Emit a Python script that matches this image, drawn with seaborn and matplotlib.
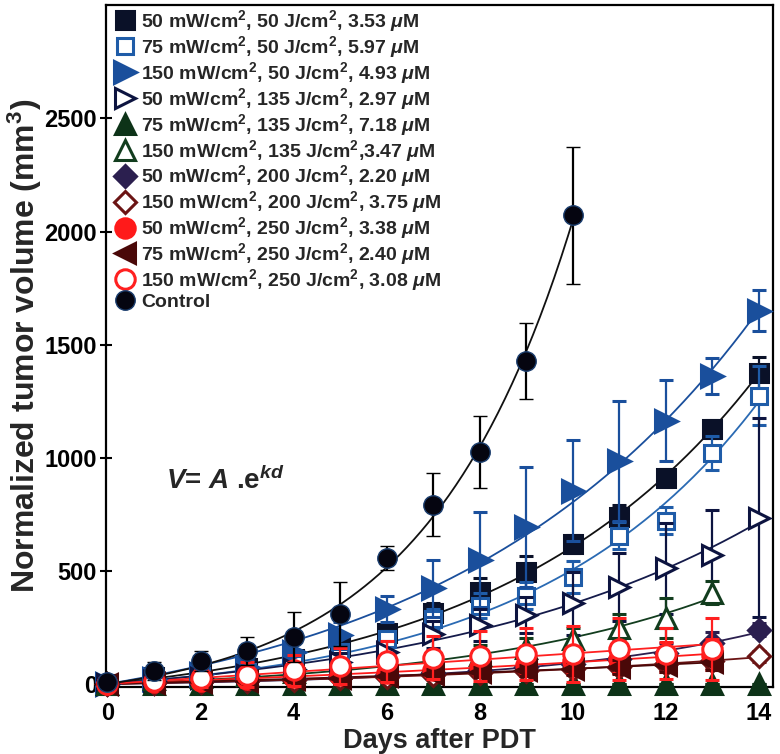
import numpy as np
import pandas as pd
import matplotlib
matplotlib.use("Agg")
import matplotlib.pyplot as plt
from matplotlib.lines import Line2D
import seaborn as sns

# days after PDT
days = list(range(15))
days_13 = list(range(14))
days_ctrl = list(range(11))

# normalized tumor volume (mm^3)
v_50_50 = [0, 30, 45, 70, 110, 165, 226, 312, 408, 496, 620, 740, 911, 1128, 1376]
e_50_50 = [5, 15, 20, 25, 30, 35, 40, 45, 60, 70, 40, 50, 40, 40, 70]
v_75_50 = [0, 20, 35, 55, 90, 140, 200, 287, 345, 390, 472, 655, 721, 1022, 1274]
e_75_50 = [5, 10, 15, 20, 25, 30, 35, 45, 55, 60, 70, 60, 60, 75, 130]
v_150_50 = [0, 20, 45, 75, 140, 215, 330, 422, 550, 695, 855, 987, 1164, 1363, 1650]
e_150_50 = [5, 15, 20, 30, 50, 60, 57, 128, 210, 265, 225, 265, 180, 80, 90]
v_50_135 = [0, 15, 25, 40, 65, 95, 140, 220, 262, 305, 356, 427, 511, 570, 735]
e_50_135 = [5, 10, 15, 20, 30, 40, 50, 60, 70, 80, 140, 150, 200, 200, 440]
v_75_135 = [0, 0, 0, 0, 0, 0, 0, 0, 0, 0, 0, 0, 0, 0, 0]
e_75_135 = [0, 0, 0, 0, 0, 0, 0, 0, 0, 0, 0, 0, 0, 0, 0]
v_150_135 = [0, 20, 30, 40, 55, 70, 85, 100, 130, 160, 199, 248, 292, 403]
e_150_135 = [5, 10, 10, 15, 20, 25, 30, 35, 40, 45, 50, 60, 90, 50]
v_50_200 = [0, 5, 10, 15, 22, 30, 40, 50, 62, 75, 90, 110, 135, 180, 240]
e_50_200 = [3, 5, 8, 10, 12, 15, 18, 20, 25, 30, 35, 40, 45, 50, 30]
v_150_200 = [0, 5, 8, 12, 18, 25, 32, 40, 50, 58, 66, 75, 88, 100, 122]
e_150_200 = [3, 5, 6, 8, 10, 12, 14, 16, 18, 20, 22, 25, 28, 30, 25]
v_50_250 = [0, 8, 15, 22, 30, 40, 50, 62, 75, 85, 100, 110, 120, 130]
e_50_250 = [5, 10, 15, 20, 25, 30, 35, 40, 45, 50, 55, 60, 65, 70]
v_75_250 = [0, 5, 10, 15, 20, 28, 35, 45, 52, 60, 68, 75, 85, 95]
e_75_250 = [3, 5, 8, 10, 12, 15, 18, 20, 22, 25, 28, 30, 32, 35]
v_150_250 = [0, 15, 25, 40, 60, 80, 100, 115, 124, 133, 133, 155, 133, 155]
e_150_250 = [10, 30, 40, 55, 70, 80, 90, 95, 110, 115, 125, 137, 113, 137]
v_ctrl = [8, 58, 102, 146, 208, 309, 557, 793, 1024, 1429, 2072]
e_ctrl = [10, 40, 45, 62, 110, 140, 55, 140, 160, 168, 303]

um = r" $\mathit{\mu}$M"
sq = r"$^{\mathbf{2}}$"
labels = [
    f"50 mW/cm{sq}, 50 J/cm{sq}, 3.53{um}",
    f"75 mW/cm{sq}, 50 J/cm{sq}, 5.97{um}",
    f"150 mW/cm{sq}, 50 J/cm{sq}, 4.93{um}",
    f"50 mW/cm{sq}, 135 J/cm{sq}, 2.97{um}",
    f"75 mW/cm{sq}, 135 J/cm{sq}, 7.18{um}",
    f"150 mW/cm{sq}, 135 J/cm{sq},3.47{um}",
    f"50 mW/cm{sq}, 200 J/cm{sq}, 2.20{um}",
    f"150 mW/cm{sq}, 200 J/cm{sq}, 3.75{um}",
    f"50 mW/cm{sq}, 250 J/cm{sq}, 3.38{um}",
    f"75 mW/cm{sq}, 250 J/cm{sq}, 2.40{um}",
    f"150 mW/cm{sq}, 250 J/cm{sq}, 3.08{um}",
    "Control",
]

# (days, values, errors, marker, size, face, edge, line colour, edge width)
styles = [
    (days, v_50_50, e_50_50, "s", 13, "#0a1128", "#0a1128", "#111111", 2.2),
    (days, v_75_50, e_75_50, "s", 12, "white", "#1f5ca8", "#2a6ab3", 2.2),
    (days, v_150_50, e_150_50, ">", 16, "#1a4f9c", "#1a4f9c", "#1a4f9c", 2.2),
    (days, v_50_135, e_50_135, ">", 15, "white", "#0d1440", "#141a4a", 2.2),
    (days, v_75_135, e_75_135, "^", 15, "#0d3318", "#0d3318", "#0d3318", 2.2),
    (days_13, v_150_135, e_150_135, "^", 15, "white", "#123d1e", "#123d1e", 2.2),
    (days, v_50_200, e_50_200, "D", 11, "#2b1f4f", "#2b1f4f", "#2b1f4f", 2.2),
    (days, v_150_200, e_150_200, "D", 11, "white", "#6b1414", "#6b1414", 2.2),
    (days_13, v_50_250, e_50_250, "o", 14, "#ff1a1a", "#ff1a1a", "#ff1a1a", 2.2),
    (days_13, v_75_250, e_75_250, "<", 15, "#4a0808", "#4a0808", "#4a0808", 2.2),
    (days_13, v_150_250, e_150_250, "o", 14, "white", "#ff2020", "#ff2020", 2.2),
    (days_ctrl, v_ctrl, e_ctrl, "o", 14, "#050510", "#1a3d6e", "#111111", 1.0),
]


def fit_exp(d, v):
    # least squares fit of V = A.(e^(kd) - 1), so the curve starts at zero
    d = np.asarray(d, float)
    v = np.asarray(v, float)
    ks = np.linspace(0.005, 1.0, 4000)
    F = np.exp(np.outer(ks, d)) - 1.0
    A = (F @ v) / (F * F).sum(axis=1)
    sse = ((A[:, None] * F - v) ** 2).sum(axis=1)
    i = np.argmin(sse)
    return A[i], ks[i]


sns.set_theme(style="ticks")
plt.rcParams["font.family"] = ["Liberation Sans", "DejaVu Sans"]
plt.rcParams["font.weight"] = "bold"
plt.rcParams["mathtext.fontset"] = "custom"
plt.rcParams["mathtext.rm"] = "Liberation Sans:bold"
plt.rcParams["mathtext.bf"] = "Liberation Sans:bold"
plt.rcParams["mathtext.it"] = "Liberation Sans:bold:italic"

fig = plt.figure(figsize=(7.8, 7.54), dpi=100)
ax = fig.add_axes([0.136, 0.089, 0.855, 0.904])

# fitted exponential curves
rows = []
palette = {}
for lab, (d, v, e, m, ms, fc, ec, lc, mw) in zip(labels, styles):
    if max(v) < 1:
        continue
    A, k = fit_exp(d, v)
    grid = np.linspace(0, d[-1], 200)
    for g in grid:
        rows.append({"day": g, "fit": A * (np.exp(k * g) - 1.0), "series": lab})
    palette[lab] = lc
curves = pd.DataFrame(rows)
sns.lineplot(data=curves, x="day", y="fit", hue="series", palette=palette,
             legend=False, ax=ax, linewidth=1.3, zorder=2)

handles = []
for i, (lab, (d, v, e, m, ms, fc, ec, lc, mw)) in enumerate(zip(labels, styles)):
    ecol = "black" if lab == "Control" else ec
    ax.errorbar(d, v, yerr=e, fmt=m, ms=ms, mfc=fc, mec=ec, mew=mw,
                ecolor=ecol, elinewidth=1.6, capsize=5, capthick=1.8,
                clip_on=False, zorder=3 + i)
    handles.append(Line2D([], [], ls="none", marker=m, ms=ms, mfc=fc,
                          mec=ec, mew=mw))

ax.set_xlim(-0.03, 14.3)
ax.set_ylim(-13, 3000)
ax.set_xticks([0, 2, 4, 6, 8, 10, 12, 14])
ax.set_yticks([0, 500, 1000, 1500, 2000, 2500])
ax.tick_params(axis="both", labelsize=17, width=1.5, colors="black")
ax.tick_params(axis="y", direction="inout", length=9, pad=2)
ax.tick_params(axis="x", direction="in", length=5, pad=11)
for t in ax.get_xticklabels() + ax.get_yticklabels():
    t.set_fontweight("bold")
for s in ax.spines.values():
    s.set_visible(True)
    s.set_linewidth(1.6)
    s.set_color("black")

ax.set_xlabel("Days after PDT", fontsize=19.5, fontweight="bold", labelpad=2)
ax.set_ylabel(r"Normalized tumor volume (mm$^{\mathbf{3}}$)", fontsize=23,
              fontweight="bold", labelpad=0)

ax.text(1.25, 900, r"$V$= $A$ .e$^{kd}$", fontsize=20, fontweight="bold",
        va="center", ha="left")

leg = ax.legend(handles, labels, loc="upper left", bbox_to_anchor=(0.0, 1.01),
                frameon=False, handlelength=0.9, handletextpad=0.4,
                labelspacing=0.0, borderaxespad=0.1,
                prop={"weight": "bold", "size": 14})

fig.savefig("out.png", dpi=100)
